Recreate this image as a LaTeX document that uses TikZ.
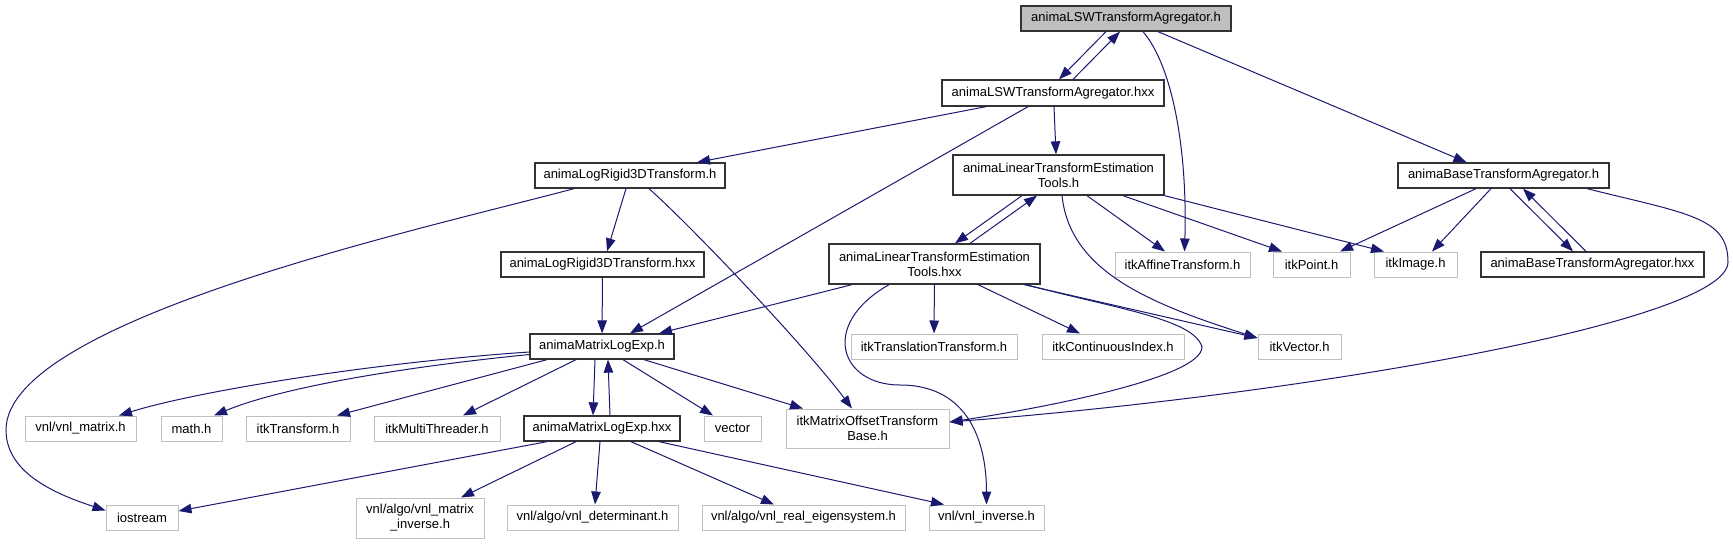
\documentclass[tikz,border=0pt]{standalone}
\usepackage{fontspec}
\setmainfont{Liberation Sans}
\usetikzlibrary{arrows.meta}
\definecolor{edgeblue}{RGB}{25,25,112}
\definecolor{extline}{RGB}{191,191,191}
\definecolor{rootfill}{RGB}{191,191,191}

\begin{document}
\begin{tikzpicture}[x=1pt, y=-1pt,
  font=\fontsize{13}{15}\selectfont,
  box/.style={draw, rectangle, inner sep=0pt, minimum height=25pt, align=center},
  doc/.style={box, draw=black!80, line width=1.3pt},
  ext/.style={box, draw=extline, line width=1pt},
  rootbox/.style={doc, fill=rootfill},
  arr/.style={-{Triangle[length=13pt,width=9.5pt]}, line width=1pt, edgeblue}]
\useasboundingbox (0,0) rectangle (1733,544);

% top of the graph
\node[rootbox, minimum width=210pt] (lswh) at (1126,18.5) {animaLSWTransformAgregator.h};
\node[doc, minimum width=222pt, minimum height=26pt] (lswhxx) at (1053,93) {animaLSWTransformAgregator.hxx};
\node[doc, minimum width=190pt] (rigid) at (630,175.5) {animaLogRigid3DTransform.h};
\node[doc, minimum width=211pt, minimum height=40pt] (lintools) at (1058.5,175) {animaLinearTransformEstimation\\Tools.h};
\node[doc, minimum width=211pt] (baseagg) at (1503.5,175.5) {animaBaseTransformAgregator.h};

% second row
\node[doc, minimum width=203pt] (rigidhxx) at (602.5,264.5) {animaLogRigid3DTransform.hxx};
\node[doc, minimum width=211pt, minimum height=40pt] (lintoolshxx) at (934.5,264) {animaLinearTransformEstimation\\Tools.hxx};
\node[ext, minimum width=135pt] (affine) at (1182.5,264.5) {itkAffineTransform.h};
\node[ext, minimum width=77pt] (point) at (1311.5,264.5) {itkPoint.h};
\node[ext, minimum width=83pt] (image) at (1415.5,264.5) {itkImage.h};
\node[doc, minimum width=223pt] (baseagghxx) at (1592.5,264.5) {animaBaseTransformAgregator.hxx};

% third row
\node[doc, minimum width=144pt] (logexp) at (602,346.5) {animaMatrixLogExp.h};
\node[ext, minimum width=166pt] (transl) at (934,346.5) {itkTranslationTransform.h};
\node[ext, minimum width=142pt] (contidx) at (1113,346.5) {itkContinuousIndex.h};
\node[ext, minimum width=83pt] (itkvec) at (1299.5,346.5) {itkVector.h};

% fourth row
\node[ext, minimum width=111pt] (vnlmat) at (80.5,428.5) {vnl/vnl\_matrix.h};
\node[ext, minimum width=61pt] (mathh) at (191.5,428.5) {math.h};
\node[ext, minimum width=104pt] (itktrans) at (298,428.5) {itkTransform.h};
\node[ext, minimum width=126pt] (threader) at (437,428.5) {itkMultiThreader.h};
\node[doc, minimum width=156pt] (logexphxx) at (602,428.5) {animaMatrixLogExp.hxx};
\node[ext, minimum width=57pt] (stdvector) at (732.5,428.5) {vector};
\node[ext, minimum width=163pt, minimum height=39pt] (matoffset) at (867.5,428.5) {itkMatrixOffsetTransform\\Base.h};

% bottom row
\node[ext, minimum width=72pt] (iostream) at (142,517.5) {iostream};
\node[ext, minimum width=128pt, minimum height=40pt] (matinv) at (420,518) {vnl/algo/vnl\_matrix\\\_inverse.h};
\node[ext, minimum width=171pt] (determ) at (592.5,517.5) {vnl/algo/vnl\_determinant.h};
\node[ext, minimum width=203pt] (eigen) at (803.5,517.5) {vnl/algo/vnl\_real\_eigensystem.h};
\node[ext, minimum width=115pt] (vnlinv) at (986.5,517.5) {vnl/vnl\_inverse.h};

\coordinate (ioturn) at (6,430);
\coordinate (loopturn) at (1202,347);
\coordinate (sturn) at (900,385);
\coordinate (baseturn) at (1728,262);

% header and its hxx
\draw[arr] ([xshift=-20]lswh.south) -- ([xshift=6]lswhxx.north);
\draw[arr] ([xshift=20]lswhxx.north) -- ([xshift=-6]lswh.south);
\draw[arr] ([xshift=17]lswh.south) .. controls +(30,35) and +(3,-100) .. ([xshift=2]affine.north);
\draw[arr] ([xshift=32]lswh.south) -- ([xshift=-37]baseagg.north);
\draw[arr] ([xshift=-67]lswhxx.south) -- ([xshift=67]rigid.north);
\draw[arr] ([xshift=-25]lswhxx.south) -- ([xshift=28]logexp.north);
\draw[arr] ([xshift=1]lswhxx.south) -- ([xshift=-2.5]lintools.north);

% rigid transform
\draw[arr] ([xshift=-56]rigid.south) .. controls +(-150,40) and +(0,-110) .. (ioturn) .. controls +(0,45) and +(-45,-15) .. ([yshift=7]iostream.west);
\draw[arr] ([xshift=-4]rigid.south) -- ([xshift=4.5]rigidhxx.north);
\draw[arr] ([xshift=19]rigid.south) .. controls +(45,40) and +(-45,-60) .. ([xshift=-15.5]matoffset.north);
\draw[arr] (rigidhxx) -- (logexp);

% linear estimation tools
\draw[arr] ([xshift=-36.5]lintools.south) -- ([xshift=20.5]lintoolshxx.north);
\draw[arr] ([xshift=35.5]lintoolshxx.north) -- ([xshift=-21.5]lintools.south);
\draw[arr] ([xshift=28.5]lintools.south) -- ([xshift=-17.5]affine.north);
\draw[arr] ([xshift=64.5]lintools.south) -- ([xshift=-29.5]point.north);
\draw[arr] (lintools.south east) -- ([xshift=-31.5]image.north);
\draw[arr] ([xshift=3.5]lintools.south) .. controls +(8,75) and +(-110,-35) .. ([yshift=8.5]itkvec.west);
\draw[arr] ([xshift=-82.5]lintoolshxx.south) -- ([xshift=57]logexp.north);
\draw[arr] (lintoolshxx) -- (transl);
\draw[arr] ([xshift=43.5]lintoolshxx.south) -- ([xshift=-33]contidx.north);
\draw[arr] ([xshift=89.5]lintoolshxx.south) -- ([yshift=8.5]itkvec.west);
\draw[arr] ([xshift=91.5]lintoolshxx.south) .. controls +(90,24) and +(-8,-28) .. (loopturn) .. controls +(0,30) and +(100,-15) .. ([yshift=6.5]matoffset.east);
\draw[arr] ([xshift=-45.5]lintoolshxx.south) .. controls +(-70,40) and +(-60,0) .. (sturn) .. controls +(70,0) and +(0,-60) .. (vnlinv.north);

% base agregator
\draw[arr] ([xshift=-27.5]baseagg.south) -- ([xshift=28.5]point.north);
\draw[arr] ([xshift=-12.5]baseagg.south) -- ([xshift=16.5]image.north);
\draw[arr] ([xshift=6.5]baseagg.south) -- ([xshift=-19.5]baseagghxx.north);
\draw[arr] ([xshift=-6.5]baseagghxx.north) -- ([xshift=19.5]baseagg.south);
\draw[arr] ([xshift=83.5]baseagg.south) .. controls +(100,25) and +(0,-45) .. (baseturn) .. controls +(0,60) and +(351,-27) .. ([yshift=6.5]matoffset.east);

% matrix log exp
\draw[arr] ([yshift=-5.5]logexp.west) .. controls +(-150,10) and +(80,-25) .. ([xshift=38.5]vnlmat.north);
\draw[arr] ([yshift=-8]logexp.west) .. controls +(-150,15) and +(60,-25) .. ([xshift=22.5]mathh.north);
\draw[arr] ([xshift=-55]logexp.south) -- ([xshift=39]itktrans.north);
\draw[arr] ([xshift=-26]logexp.south) -- ([xshift=26]threader.north);
\draw[arr] ([xshift=-7]logexp.south) -- ([xshift=-9]logexphxx.north);
\draw[arr] ([xshift=8]logexphxx.north) -- ([xshift=6]logexp.south);
\draw[arr] ([xshift=21]logexp.south) -- ([xshift=-19.5]stdvector.north);
\draw[arr] ([xshift=42]logexp.south) -- ([xshift=-64.5]matoffset.north);
\draw[arr] ([xshift=-55]logexphxx.south) -- ([yshift=6.5]iostream.east);
\draw[arr] ([xshift=-26]logexphxx.south) -- ([xshift=41]matinv.north);
\draw[arr] ([xshift=-2]logexphxx.south) -- ([xshift=2.5]determ.north);
\draw[arr] ([xshift=29]logexphxx.south) -- ([xshift=-29.5]eigen.north);
\draw[arr] ([xshift=57]logexphxx.south) -- ([xshift=-42.5]vnlinv.north);
\end{tikzpicture}
\end{document}
